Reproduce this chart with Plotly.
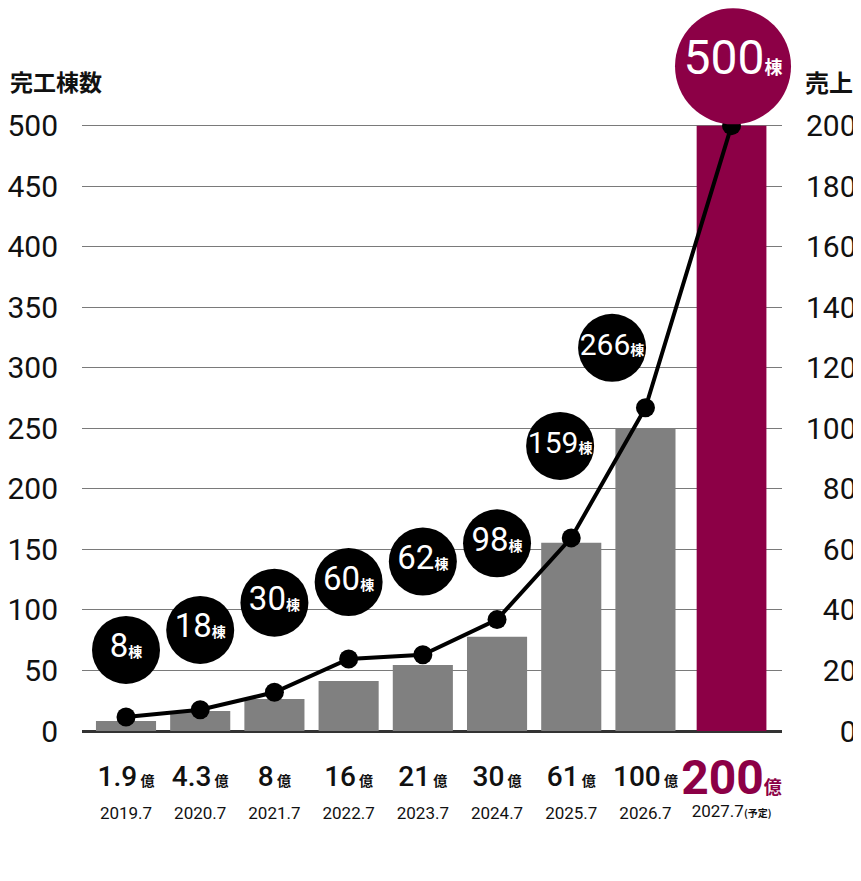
import plotly.graph_objects as go

# data
years = ["2019.7", "2020.7", "2021.7", "2022.7", "2023.7", "2024.7", "2025.7", "2026.7", "2027.7"]
sales_label = ["1.9", "4.3", "8", "16", "21", "30", "61", "100", "200"]   # 売上 (億)
sales_bar = [3.3, 6.6, 10.6, 16.5, 21.8, 31.1, 62.2, 100, 200]           # bar heights as drawn
units = [11.5, 17.5, 32, 59.5, 63, 92, 159.5, 267, 500]                   # 完工棟数 line
unit_label = ["8", "18", "30", "60", "62", "98", "159", "266", "500"]
bubble_y = [67, 83.5, 106, 123, 140, 155, 235.5, 316.5, 549]
left_ticks = [0, 50, 100, 150, 200, 250, 300, 350, 400, 450, 500]
right_ticks = [0, 20, 40, 60, 80, 100, 120, 140, 160, 180, 200]

# look
gray = "#808080"
crimson = "#8c0046"
ink = "#111111"
num_font = "Roboto"
jp_font = "Noto Sans CJK JP"
last_gap = 0.16
bubble_dx = [0, 0, 0, 0, 0, 0, -0.15, -0.45, 0.02]
units_top = 560          # head room above 500 so the big bubble is drawn
sales_top = units_top * 200 / 500

n = len(years)
x_pos = list(range(n))
x_pos[-1] += last_gap
bar_colors = [gray] * (n - 1) + [crimson]
bar_widths = [0.81] * (n - 1) + [0.94]

# x tick labels: amount + 億 on top, year below
tick_text = []
for i in range(n - 1):
    top = (f'<span style="font-size:28px;font-weight:500">{sales_label[i]}</span>'
           f'<span style="font-size:14px;font-weight:bold;font-family:{jp_font}"> 億</span>')
    bottom = f'<span style="font-size:17px">{years[i]}</span>'
    tick_text.append(top + "<br>" + bottom)
last_text = (f'<span style="font-size:48px;font-weight:bold;color:{crimson}">{sales_label[-1]}</span>'
             f'<span style="font-size:18px;font-weight:bold;font-family:{jp_font};color:{crimson}">億</span>'
             f'<br><span style="font-size:17px">{years[-1]}</span>'
             f'<span style="font-size:10px;font-weight:bold;font-family:{jp_font}">(予定)</span>')

bubble_text = []
for i, lab in enumerate(unit_label):
    if i == n - 1:
        size, small = 48, 18
    elif len(lab) == 3:
        size, small = 30, 14
    else:
        size, small = 33, 14
    bubble_text.append(f'<span style="font-size:{size}px">{lab}</span>'
                       f'<span style="font-size:{small}px;font-weight:bold;font-family:{jp_font}">棟</span>')

fig = go.Figure()

# sales bars on the base (right) axis
fig.add_trace(go.Bar(
    x=x_pos, y=sales_bar, width=bar_widths,
    marker=dict(color=bar_colors, line=dict(width=0)),
    yaxis="y", showlegend=False, hoverinfo="skip",
))

# completed units line on the left overlay axis
fig.add_trace(go.Scatter(
    x=x_pos, y=units, mode="lines+markers",
    line=dict(color="black", width=4),
    marker=dict(color="black", size=19),
    yaxis="y2", showlegend=False, cliponaxis=False,
))

# bubbles (on x2 so the last tick label can sit lower)
fig.add_trace(go.Scatter(
    x=[x + d for x, d in zip(x_pos, bubble_dx)], y=bubble_y,
    mode="markers+text",
    marker=dict(color=["black"] * (n - 1) + [crimson], opacity=1,
                size=[68] * (n - 1) + [116], line=dict(width=0)),
    text=bubble_text, textposition="middle center",
    textfont=dict(family=num_font, color="white", size=30),
    xaxis="x2", yaxis="y2", showlegend=False, cliponaxis=False,
))

fig.update_layout(
    width=861, height=881,
    margin=dict(l=74, r=87, t=45, b=158),
    paper_bgcolor="white", plot_bgcolor="white",
    font=dict(family=num_font, color=ink),
    xaxis=dict(
        range=[-0.593, 8.84], tickvals=x_pos[:-1], ticktext=tick_text,
        showgrid=False, zeroline=False, showline=False, ticks="",
        tickangle=0, automargin=False,
        tickfont=dict(size=25, color=ink, family=num_font),
        ticklabelstandoff=29,
    ),
    xaxis2=dict(
        overlaying="x", matches="x", side="bottom",
        tickvals=[x_pos[-1]], ticktext=[last_text],
        showgrid=False, zeroline=False, showline=False, ticks="",
        tickangle=0, automargin=False,
        tickfont=dict(size=18, color=ink, family=num_font),
        ticklabelstandoff=44,
    ),
    yaxis=dict(
        side="right", range=[0, sales_top],
        tickvals=right_ticks,
        ticktext=[f"{v:>3}".replace(" ", "\u2007") for v in right_ticks],
        tickfont=dict(size=30, color=ink, family=num_font),
        showgrid=True, gridcolor="#7a7a7a", gridwidth=1,
        zeroline=True, zerolinecolor="#333333", zerolinewidth=3,
        showline=False, ticks="", ticklabelstandoff=23, automargin=False,
    ),
    yaxis2=dict(
        side="left", overlaying="y", range=[0, units_top],
        tickvals=left_ticks, ticktext=[str(v) for v in left_ticks],
        tickfont=dict(size=30, color=ink, family=num_font),
        showgrid=False, zeroline=False, showline=False, ticks="",
        ticklabelstandoff=23, automargin=False,
    ),
    annotations=[
        dict(text="<b>完工棟数</b>", xref="paper", yref="paper", x=-0.1057, y=0.9587,
             xanchor="left", yanchor="middle", showarrow=False,
             font=dict(family=jp_font, size=23, color=ink)),
        dict(text="<b>売上</b>", xref="paper", yref="paper", x=1.104, y=0.9587,
             xanchor="right", yanchor="middle", showarrow=False,
             font=dict(family=jp_font, size=24, color=ink)),
    ],
)

fig.write_html("out.html")
